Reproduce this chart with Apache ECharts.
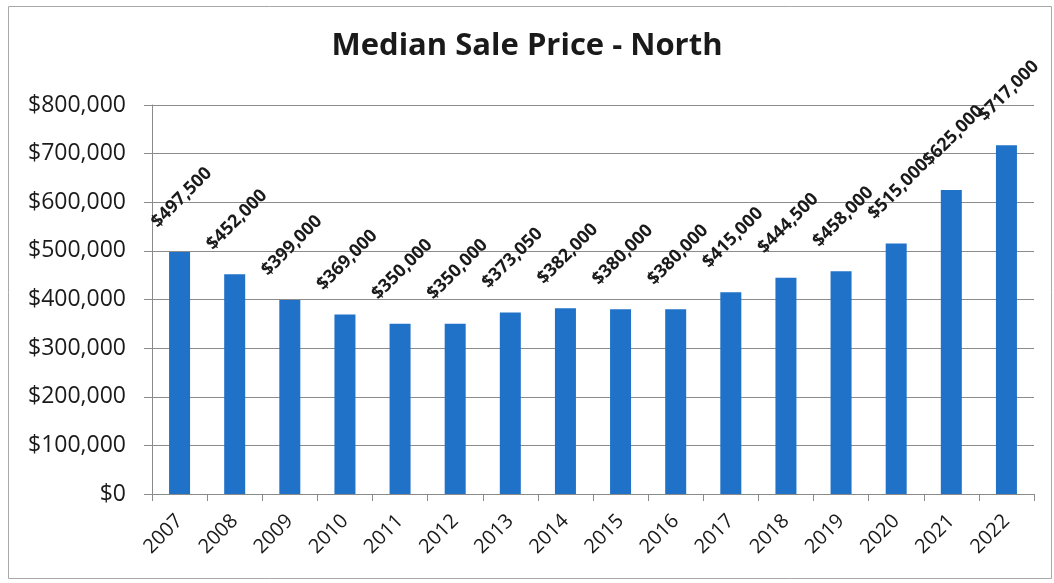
<!DOCTYPE html>
<html>
<head>
<meta charset="utf-8">
<script src="https://cdn.jsdelivr.net/npm/echarts@6/dist/echarts.min.js"></script>
<style>
  html, body { margin: 0; padding: 0; background: #fff; }
  #chart { width: 1054px; height: 583px; }
</style>
</head>
<body>
<div id="chart"></div>
<script>
// Median sale price by year, North area
const years = ['2007', '2008', '2009', '2010', '2011', '2012', '2013', '2014',
               '2015', '2016', '2017', '2018', '2019', '2020', '2021', '2022'];
const medianPrices = [497500, 452000, 399000, 369000, 350000, 350000, 373050, 382000,
                      380000, 380000, 415000, 444500, 458000, 515000, 625000, 717000];
const yTicks = [0, 100000, 200000, 300000, 400000, 500000, 600000, 700000, 800000];

const FONT = '"Open Sans", "Noto Sans", sans-serif';
const money = v => '$' + v.toLocaleString('en-US');

const chart = echarts.init(document.getElementById('chart'));
chart.setOption({
  backgroundColor: '#ffffff',
  animation: false,
  title: {
    text: 'Median Sale Price - North',
    left: 'center',
    top: 26,
    textStyle: { fontFamily: FONT, fontSize: 31, fontWeight: 'bold', color: '#1a1a1a' }
  },
  graphic: [{
    type: 'rect',
    shape: { x: 8.5, y: 6.5, width: 1043, height: 572 },
    style: { fill: 'none', stroke: '#a8a8a8', lineWidth: 1 },
    silent: true
  }],
  grid: { left: 152, right: 20, top: 105, bottom: 89 },
  xAxis: {
    type: 'category',
    data: years,
    boundaryGap: true,
    axisLine: { lineStyle: { color: '#8a8a8a', width: 1 } },
    axisTick: { show: true, length: 7, lineStyle: { color: '#8a8a8a' } },
    axisLabel: {
      rotate: 45,
      margin: 24,
      fontFamily: FONT,
      fontSize: 20,
      color: '#1a1a1a'
    }
  },
  yAxis: {
    type: 'value',
    min: yTicks[0],
    max: yTicks[yTicks.length - 1],
    interval: yTicks[1] - yTicks[0],
    axisLine: { show: true, lineStyle: { color: '#8a8a8a', width: 1 } },
    axisTick: { show: true, length: 8, lineStyle: { color: '#8a8a8a' } },
    splitLine: { show: true, lineStyle: { color: '#8c8c8c', width: 1 } },
    axisLabel: {
      margin: 26,
      fontFamily: FONT,
      fontSize: 23,
      color: '#1a1a1a',
      formatter: money
    }
  },
  series: [{
    type: 'bar',
    data: medianPrices,
    barWidth: 21,
    itemStyle: { color: '#1f72c8' },
    label: {
      show: true,
      position: 'top',
      distance: 0,
      rotate: 45,
      align: 'center',
      verticalAlign: 'middle',
      // offset is in the label's rotated frame: along the text, then across it
      offset: [40, -37],
      fontFamily: FONT,
      fontSize: 18,
      fontWeight: 'bold',
      color: '#1a1a1a',
      formatter: p => money(p.value)
    }
  }]
});
</script>
</body>
</html>
